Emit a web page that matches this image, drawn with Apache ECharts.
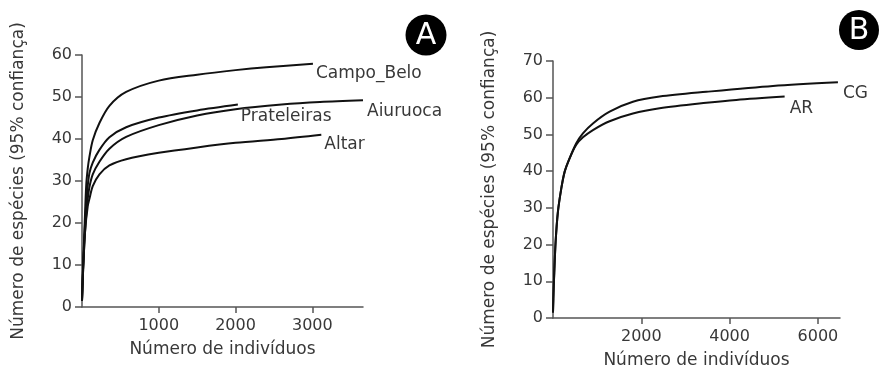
<!DOCTYPE html>
<html>
<head>
<meta charset="utf-8">
<script src="https://cdn.jsdelivr.net/npm/echarts@6/dist/echarts.min.js"></script>
<style>
  html, body { margin: 0; padding: 0; background: #fff; }
  #chart { width: 879px; height: 376px; }
</style>
</head>
<body>
<div id="chart"></div>
<script>
// Painel A - curvas de rarefação
var campoBeloX = [0, 15, 35, 55, 75, 96, 140, 227, 357, 575, 1000, 1500, 2000, 2400, 3008];
var campoBeloY = [1.5, 10, 20, 29, 33, 35.7, 39.7, 43.8, 47.9, 51.2, 53.9, 55.3, 56.4, 57.1, 57.9];
var prateleirasX = [0, 15, 40, 65, 96, 140, 227, 357, 575, 1000, 1500, 2030];
var prateleirasY = [1.5, 10, 20, 27, 31.8, 34.4, 37.4, 40.4, 42.8, 45.1, 46.8, 48.2];
var aiuruocaX = [0, 15, 40, 70, 96, 140, 227, 357, 575, 1000, 1500, 2000, 2600, 3100, 3660];
var aiuruocaY = [1.5, 9, 18, 25, 28.5, 31.6, 34.6, 37.7, 40.5, 43.3, 45.6, 47.1, 48.2, 48.8, 49.2];
var altarX = [0, 15, 40, 75, 100, 140, 227, 357, 575, 1000, 1500, 2000, 2600, 3117];
var altarY = [1.5, 9, 18, 24, 26, 28.8, 31.6, 33.7, 35.2, 36.7, 38.0, 39.1, 40.0, 41.0];

// Painel B
var cgX = [0, 15, 29, 59, 111, 188, 263, 376, 527, 678, 904, 1282, 1810, 2415, 3472, 4981, 6453];
var cgY = [1.5, 8, 12.5, 20.7, 28.9, 35.3, 39.8, 43.5, 47.6, 50.3, 53, 56.2, 58.9, 60.3, 61.6, 63.2, 64.2];
var arX = [0, 15, 29, 59, 111, 188, 263, 376, 527, 678, 904, 1282, 1810, 2415, 3472, 4152, 5246];
var arY = [1.5, 8, 12.5, 20.7, 28.9, 35.3, 39.8, 43.5, 47.2, 49.2, 51.2, 53.6, 55.7, 57.1, 58.6, 59.4, 60.3];

// eixos
var xTicksA = [1000, 2000, 3000];
var xTicksB = [2000, 4000, 6000];

var FONT = 'DejaVu Sans';

function zip(xs, ys) {
    return xs.map(function (x, i) { return [x, ys[i]]; });
}

function plain(v) {
    return String(v);
}

function xAxisCfg(idx, max, ticks) {
    return {
        type: 'value',
        gridIndex: idx,
        min: 0,
        max: max,
        name: 'Número de indivíduos',
        nameLocation: 'middle',
        nameGap: 34,
        nameTextStyle: {color: '#383838', fontSize: 17, fontFamily: FONT},
        splitLine: {show: false},
        axisLine: {lineStyle: {color: '#555', width: 1.5}},
        axisTick: {show: true, length: 6, customValues: ticks, lineStyle: {color: '#555', width: 1.5}},
        axisLabel: {customValues: ticks, formatter: plain, margin: 11, color: '#383838', fontSize: 16, fontFamily: FONT}
    };
}

function yAxisCfg(idx, max) {
    return {
        type: 'value',
        gridIndex: idx,
        min: 0,
        max: max,
        interval: 10,
        name: 'Número de espécies (95% confiança)',
        nameLocation: 'middle',
        nameGap: 55,
        nameTextStyle: {color: '#383838', fontSize: 17, fontFamily: FONT},
        splitLine: {show: false},
        axisLine: {show: true, lineStyle: {color: '#555', width: 1.5}},
        axisTick: {show: true, length: 7, lineStyle: {color: '#555', width: 1.5}},
        axisLabel: {formatter: plain, margin: 10, color: '#383838', fontSize: 16, fontFamily: FONT}
    };
}

function curve(name, idx, data, offset) {
    return {
        name: name,
        type: 'line',
        xAxisIndex: idx,
        yAxisIndex: idx,
        data: data,
        smooth: 0.3,
        showSymbol: false,
        lineStyle: {color: '#111', width: 2},
        endLabel: {
            show: true,
            formatter: '{a}',
            distance: 0,
            offset: offset,
            color: '#383838',
            fontSize: 17,
            fontFamily: FONT
        }
    };
}

var chart = echarts.init(document.getElementById('chart'), null, {renderer: 'canvas'});

chart.setOption({
    animation: false,
    backgroundColor: '#fff',
    grid: [
        {left: 82, top: 55, width: 281, height: 252},
        {left: 553, top: 61, width: 287, height: 257}
    ],
    xAxis: [xAxisCfg(0, 3660, xTicksA), xAxisCfg(1, 6500, xTicksB)],
    yAxis: [yAxisCfg(0, 60), yAxisCfg(1, 70)],
    series: [
        curve('Campo_Belo', 0, zip(campoBeloX, campoBeloY), [3, 9.5]),
        curve('Prateleiras', 0, zip(prateleirasX, prateleirasY), [3, 12]),
        curve('Aiuruoca', 0, zip(aiuruocaX, aiuruocaY), [4, 11]),
        curve('Altar', 0, zip(altarX, altarY), [3, 10]),
        curve('CG', 1, zip(cgX, cgY), [5, 11]),
        curve('AR', 1, zip(arX, arY), [5, 12])
    ],
    // letras dos painéis
    graphic: [
        {type: 'circle', shape: {cx: 426, cy: 35, r: 20.5}, style: {fill: '#000'}},
        {type: 'text', x: 426, y: 36, style: {text: 'A', fill: '#fff', fontSize: 30, fontFamily: FONT, align: 'center', verticalAlign: 'middle'}},
        {type: 'circle', shape: {cx: 859, cy: 30, r: 20}, style: {fill: '#000'}},
        {type: 'text', x: 859, y: 31, style: {text: 'B', fill: '#fff', fontSize: 30, fontFamily: FONT, align: 'center', verticalAlign: 'middle'}}
    ]
});
</script>
</body>
</html>
